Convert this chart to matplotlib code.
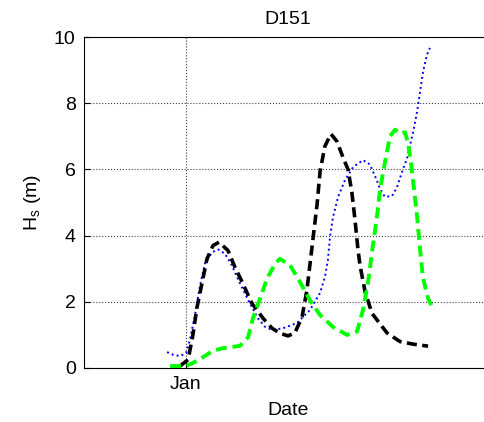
import matplotlib
matplotlib.use('Agg')
import matplotlib.pyplot as plt

plt.rcParams['font.family'] = ['Liberation Sans', 'DejaVu Sans']

# time in days from 1 Jan, Hs in metres
black_t = [-0.2, 0.07, 0.23, 0.37, 0.53, 0.7, 0.9, 1.1, 1.4, 1.63, 1.87, 2.2, 2.57, 2.87,
           3.13, 3.4, 3.63, 3.87, 4.03, 4.2, 4.37, 4.47, 4.63, 4.83, 5.03, 5.23, 5.4,
           5.53, 5.63, 5.73, 5.8, 5.97, 6.2, 6.37, 6.7, 7.13, 7.57, 8.07]
black_hs = [0.06, 0.25, 1.0, 1.85, 2.55, 3.3, 3.7, 3.8, 3.55, 3.05, 2.6, 1.95, 1.5, 1.2,
            1.05, 0.97, 1.06, 1.55, 2.35, 3.65, 4.95, 5.95, 6.7, 7.07, 6.85, 6.37, 6.0,
            5.3, 4.5, 3.6, 3.1, 2.3, 1.65, 1.45, 1.06, 0.8, 0.72, 0.66]

blue_t = [-0.63, -0.43, -0.2, 0.0, 0.13, 0.3, 0.47, 0.63, 0.87, 1.07, 1.3, 1.53, 1.8,
          2.13, 2.4, 2.63, 2.87, 3.23, 3.7, 4.13, 4.47, 4.63, 4.73, 4.8, 4.9, 5.07, 5.3,
          5.57, 5.9, 6.13, 6.37, 6.47, 6.63, 6.87, 7.03, 7.2, 7.37, 7.47, 7.57, 7.7, 7.8,
          7.9, 8.03, 8.13]
blue_hs = [0.48, 0.4, 0.36, 0.45, 0.85, 1.6, 2.5, 3.15, 3.5, 3.58, 3.45, 3.1, 2.55,
           1.95, 1.5, 1.25, 1.15, 1.2, 1.36, 1.75, 2.27, 2.75, 3.26, 3.96, 4.56, 5.17, 5.68,
           6.07, 6.28, 6.15, 5.65, 5.4, 5.17, 5.2, 5.45, 5.92, 6.34, 6.74, 7.13, 7.73, 8.34,
           8.94, 9.46, 9.67]

green_t = [-0.53, -0.27, 0.0, 0.23, 0.57, 0.9, 1.23, 1.8, 2.07, 2.23, 2.47, 2.7, 2.97,
           3.13, 3.47, 3.8, 4.13, 4.47, 4.9, 5.37, 5.7, 5.9, 6.07, 6.23, 6.37, 6.47, 6.63,
           6.8, 6.97, 7.13, 7.3, 7.4, 7.5, 7.6, 7.7, 7.8, 7.9, 8.07, 8.2]
green_hs = [0.06, 0.06, 0.06, 0.15, 0.33, 0.52, 0.6, 0.67, 0.93, 1.5, 2.1, 2.7, 3.15,
            3.3, 3.1, 2.6, 2.05, 1.6, 1.24, 1.0, 1.1, 1.75, 2.6, 3.7, 4.6, 5.4, 6.2,
            7.0, 7.2, 7.08, 7.12, 6.8, 6.2, 5.4, 4.6, 3.6, 2.72, 2.1, 1.85]

xticks = [0]
xticklabels = ['Jan']
yticks = [0, 2, 4, 6, 8, 10]

fig = plt.figure(figsize=(4.85, 4.22), dpi=100)
ax = fig.add_axes([84 / 485, 54 / 422, 408 / 485, 331 / 422])

ax.plot(blue_t, blue_hs, color='#0000ff', lw=1.4, linestyle=(0, (1, 1.6)))
ax.plot(black_t, black_hs, color='black', lw=2.6, linestyle=(0, (2.8, 1.5)))
ax.plot(green_t, green_hs, color='#00ff00', lw=2.8, linestyle=(0, (2.8, 1.5)))

ax.set_xlim(-3.4, 10.2)
ax.set_ylim(0, 10)
ax.set_xticks(xticks)
ax.set_xticklabels(xticklabels)
ax.set_yticks(yticks)
ax.grid(True, linestyle=':', color='0.25', lw=0.8)
ax.tick_params(direction='in', labelsize=14, length=4, pad=6)

ax.set_title('D151', fontsize=14, pad=9)
ax.set_xlabel('Date', fontsize=14, labelpad=6)
ax.set_ylabel(r'H$_\mathregular{s}$ (m)', fontsize=14, labelpad=8)

fig.savefig('out.png', dpi=100)
